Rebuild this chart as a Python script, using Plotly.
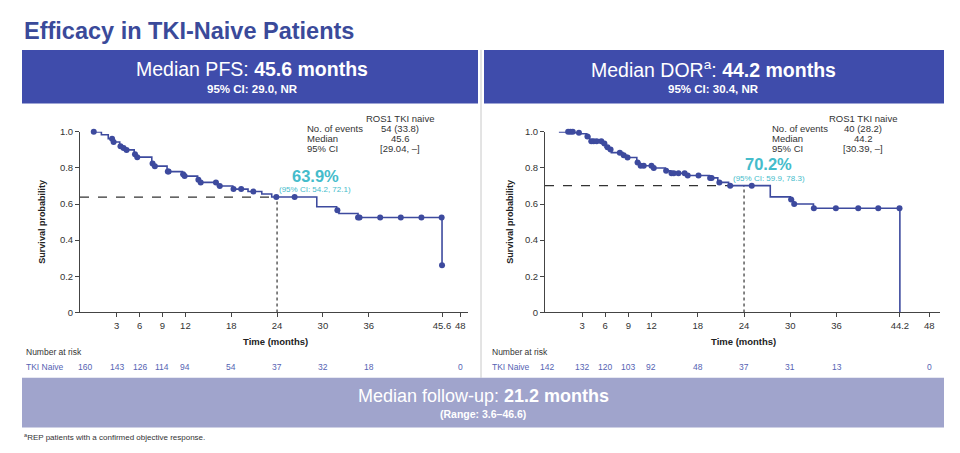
import numpy as np
import plotly.graph_objects as go

# ---------------- data ----------------
pfs_times = [0, 1.0, 1.9, 2.5, 3.4, 3.8, 4.2, 5.3, 5.6, 7.6, 7.9, 9.6, 11.6, 11.8, 13.6, 13.9,
             16.2, 18.2, 20.2, 22.0, 23.3, 29.2, 31.8, 32.1, 34.6, 45.6]
pfs_surv = [1.0, 0.984, 0.962, 0.944, 0.92, 0.91, 0.90, 0.876, 0.86, 0.825, 0.81, 0.78, 0.765,
            0.755, 0.735, 0.72, 0.70, 0.683, 0.67, 0.656, 0.639, 0.585, 0.566, 0.548, 0.526, 0.261]
pfs_censor = [0.0, 2.4, 2.6, 3.5, 3.9, 4.3, 5.4, 5.7, 7.7, 8.0, 9.7, 9.8, 11.7, 11.9, 13.7, 14.0,
              16.0, 16.5, 18.3, 19.3, 20.9, 23.9, 26.3, 31.9, 34.6, 34.8, 37.5, 40.2, 42.9, 45.55, 45.6]

dor_times = [0, 2.0, 2.8, 3.6, 4.0, 5.6, 6.0, 6.4, 6.8, 8.3, 8.8, 10.1, 10.5, 12.1, 13.8, 14.5,
             16.5, 19.5, 20.6, 22.0, 27.4, 30.0, 30.4, 33.0, 44.2]
dor_surv = [1.0, 0.995, 0.99, 0.975, 0.948, 0.935, 0.915, 0.903, 0.885, 0.87, 0.858, 0.83, 0.812,
            0.80, 0.785, 0.771, 0.758, 0.745, 0.72, 0.702, 0.64, 0.625, 0.60, 0.577, 0.0]
dor_censor = [1.2, 1.5, 1.8, 2.6, 3.7, 4.2, 4.5, 4.9, 5.5, 5.9, 6.3, 6.7, 7.9, 8.4, 8.9, 10.2,
              10.6, 11.0, 12.0, 12.3, 13.9, 14.6, 14.9, 15.5, 16.3, 16.7, 18.1, 19.6, 19.8, 20.8,
              22.2, 25.0, 30.1, 30.5, 33.05, 35.9, 38.8, 41.4, 44.15]

pfs_ticks = [3, 6, 9, 12, 18, 24, 30, 36, 45.6, 48]
pfs_ticklabels = ["3", "6", "9", "12", "18", "24", "30", "36", "45.6", "48"]
dor_ticks = [3, 6, 9, 12, 18, 24, 30, 36, 44.2, 48]
dor_ticklabels = ["3", "6", "9", "12", "18", "24", "30", "36", "44.2", "48"]
y_ticks = [0, 0.2, 0.4, 0.6, 0.8, 1.0]
y_ticklabels = ["0", "0.2", "0.4", "0.6", "0.8", "1.0"]

risk_times = [0, 3, 6, 9, 12, 18, 24, 30, 36, 48]
pfs_risk = [160, 143, 126, 114, 94, 54, 37, 32, 18, 0]
dor_risk = [142, 132, 120, 103, 92, 48, 37, 31, 13, 0]

landmark_time = 24
pfs_landmark = 0.639
dor_landmark = 0.702
pfs_landmark_label = ["63.9%", "(95% CI: 54.2, 72.1)"]
dor_landmark_label = ["70.2%", "(95% CI: 59.9, 78.3)"]

pfs_table = [["No. of events", "54 (33.8)"], ["Median", "45.6"], ["95% CI", "[29.04, –]"]]
dor_table = [["No. of events", "40 (28.2)"], ["Median", "44.2"], ["95% CI", "[30.39, –]"]]

# ---------------- style ----------------
W, H = 960, 453
NAVY = "#3D4A9E"
BLUE_BOX = "#3F4CAB"
LAV_BOX = "#A0A4CC"
TEAL = "#45BCCB"
GREY = "#333333"
FONT = "Liberation Sans"


def px(x):
    return x / W


def py(y):
    return 1 - y / H


def step_lookup(times, surv, t):
    idx = np.searchsorted(np.array(times), t, side="right") - 1
    return surv[max(idx, 0)]


def ann(x, y, text, size, color, xanchor="center", xref="paper", yref="paper", **kw):
    return dict(x=x, y=y, xref=xref, yref=yref, text=text, showarrow=False,
                xanchor=xanchor, yanchor="middle",
                font=dict(family=FONT, size=size, color=color), **kw)


fig = go.Figure()

panels = [
    dict(xa="x", ya="y", times=pfs_times, surv=pfs_surv, cens=pfs_censor,
         dom=[px(80), px(468)], rng=[-1.8, 49.0], ticks=pfs_ticks, tl=pfs_ticklabels,
         land=pfs_landmark, lab=pfs_landmark_label, lab_x=29.0, lab_y=[0.755, 0.680],
         table=pfs_table, tab_lx=305, tab_vx=400, risk=pfs_risk, risk0_shift=-9,
         ytitle_x=42, nar_x=24, title_x=275),
    dict(xa="x2", ya="y2", times=dor_times, surv=dor_surv, cens=dor_censor,
         dom=[px(545), px(940)], rng=[-1.8, 49.4], ticks=dor_ticks, tl=dor_ticklabels,
         land=dor_landmark, lab=dor_landmark_label, lab_x=27.2, lab_y=[0.820, 0.740],
         table=dor_table, tab_lx=770, tab_vx=863, risk=dor_risk, risk0_shift=-12,
         ytitle_x=510, nar_x=490, title_x=743),
]

annotations = []
shapes = []
layout_axes = {}

for i, p in enumerate(panels):
    fig.add_trace(go.Scatter(x=p["times"], y=p["surv"], mode="lines",
                             line=dict(color=NAVY, width=1.6, shape="hv"),
                             xaxis=p["xa"], yaxis=p["ya"], showlegend=False,
                             cliponaxis=False, hoverinfo="skip"))
    cy = [step_lookup(p["times"], p["surv"], t) for t in p["cens"]]
    fig.add_trace(go.Scatter(x=p["cens"], y=cy, mode="markers",
                             marker=dict(color=NAVY, size=6),
                             xaxis=p["xa"], yaxis=p["ya"], showlegend=False,
                             cliponaxis=False, hoverinfo="skip"))

    shapes.append(dict(type="line", xref=p["xa"], yref=p["ya"], x0=p["rng"][0], x1=landmark_time,
                       y0=p["land"], y1=p["land"], line=dict(color=GREY, width=1.2, dash="dash"),
                       layer="below"))
    shapes.append(dict(type="line", xref=p["xa"], yref=p["ya"], x0=landmark_time, x1=landmark_time,
                       y0=0, y1=p["land"], line=dict(color=GREY, width=1.2, dash="dot"),
                       layer="below"))

    annotations.append(ann(p["lab_x"], p["lab_y"][0], "<b>" + p["lab"][0] + "</b>", 16.5, TEAL,
                           xref=p["xa"], yref=p["ya"]))
    annotations.append(ann(p["lab_x"], p["lab_y"][1], p["lab"][1], 8, TEAL,
                           xref=p["xa"], yref=p["ya"]))

    annotations.append(ann(px(p["tab_vx"]), py(115), "ROS1 TKI naive", 9.5, GREY))
    for r, (lab, val) in enumerate(p["table"]):
        yy = py(125.5 + r * 10.5)
        annotations.append(ann(px(p["tab_lx"]), yy, lab, 9.5, GREY, xanchor="left"))
        annotations.append(ann(px(p["tab_vx"]), yy, val, 9.5, GREY))

    annotations.append(ann(px(p["title_x"]), py(344), "<b>Time (months)</b>", 9.5, "#222222"))
    annotations.append(ann(px(p["ytitle_x"]), py(221), "<b>Survival probability</b>", 9,
                           "#222222", textangle=-90))

    annotations.append(ann(px(p["nar_x"]), py(355), "Number at risk", 8.5, GREY, xanchor="left"))
    annotations.append(ann(px(p["nar_x"]), py(370), "TKI Naive", 8.5, "#5563B3", xanchor="left"))
    for j, (t, n) in enumerate(zip(risk_times, p["risk"])):
        annotations.append(ann(t, py(370), str(n), 8.5, "#5563B3", xref=p["xa"],
                               xshift=p["risk0_shift"] if j == 0 else 0))

    sfx = "" if i == 0 else "2"
    layout_axes["xaxis" + sfx] = dict(domain=p["dom"], range=p["rng"], anchor="y" + sfx,
                                      tickvals=p["ticks"], ticktext=p["tl"], ticks="outside",
                                      ticklen=4, tickcolor="#444", showline=True,
                                      linecolor="#444", linewidth=1, showgrid=False,
                                      zeroline=False, tickfont=dict(family=FONT, size=9.5,
                                                                    color="#333"))
    layout_axes["yaxis" + sfx] = dict(domain=[py(314), py(129)], range=[0, 1.0],
                                      anchor="x" + sfx, tickvals=y_ticks, ticktext=y_ticklabels,
                                      ticks="outside", ticklen=4, tickcolor="#444",
                                      showline=True, linecolor="#444", linewidth=1,
                                      showgrid=False, zeroline=False,
                                      tickfont=dict(family=FONT, size=9.5, color="#333"))

shapes.append(dict(type="rect", xref="paper", yref="paper", x0=px(22), x1=px(478),
                   y0=py(100), y1=py(45), fillcolor=BLUE_BOX, line=dict(width=0), layer="below"))
shapes.append(dict(type="rect", xref="paper", yref="paper", x0=px(484), x1=px(944),
                   y0=py(100), y1=py(45), fillcolor=BLUE_BOX, line=dict(width=0), layer="below"))
shapes.append(dict(type="line", xref="paper", yref="paper", x0=px(481), x1=px(481),
                   y0=py(381), y1=py(45), line=dict(color="#C8C8C8", width=1), layer="below"))
shapes.append(dict(type="rect", xref="paper", yref="paper", x0=px(22), x1=px(944),
                   y0=py(432), y1=py(381), fillcolor=LAV_BOX, line=dict(width=0), layer="below"))

annotations += [
    ann(px(22), py(26), "<b>Efficacy in TKI-Naive Patients</b>", 23.5, "#3A4A9A", xanchor="left"),
    ann(px(252), py(65), "Median PFS: <b>45.6 months</b>", 19.5, "white"),
    ann(px(252), py(85), "<b>95% CI: 29.0, NR</b>", 11.5, "white"),
    ann(px(713), py(65), "Median DOR<sup>a</sup>: <b>44.2 months</b>", 19.5, "white"),
    ann(px(713), py(85), "<b>95% CI: 30.4, NR</b>", 11.5, "white"),
    ann(px(483), py(400), "Median follow-up: <b>21.2 months</b>", 18, "white"),
    ann(px(483), py(418), "<b>(Range: 3.6–46.6)</b>", 10.5, "white"),
    ann(px(22), py(442), "<sup>a</sup>REP patients with a confirmed objective response.", 8,
        "#333", xanchor="left"),
]

fig.update_layout(width=W, height=H, margin=dict(l=0, r=0, t=0, b=0),
                  paper_bgcolor="white", plot_bgcolor="white", showlegend=False,
                  shapes=shapes, annotations=annotations, **layout_axes)

fig.write_html("out.html")
